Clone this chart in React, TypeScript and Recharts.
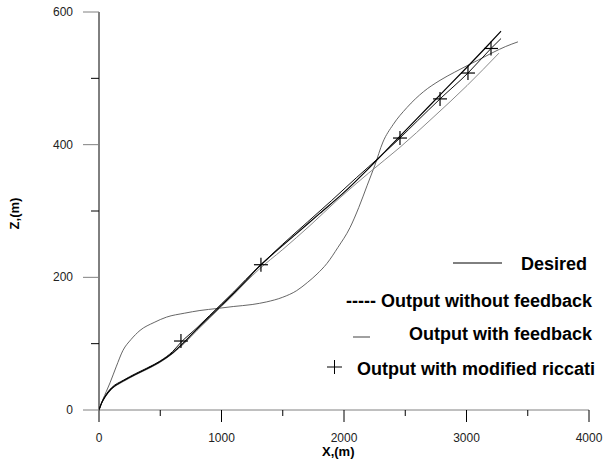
import React from 'react';
import { ComposedChart, Line, Scatter, XAxis, YAxis } from 'recharts';

// desired trajectory
const desiredX = [0, 20, 50, 100, 200, 300, 400, 500, 600, 700, 800, 900, 1000, 1100, 1200, 1300, 1400, 1600, 1800, 2000, 2200, 2400, 2600, 2800, 3000, 3150, 3282];
const desiredZ = [0, 10, 20, 32, 44, 54, 63, 73, 86, 103, 122, 140, 158, 176, 195, 215, 232, 264, 296, 328, 364, 402, 440, 478, 516, 545, 571];

// output with modified riccati (the curve under the + marks)
const riccatiX = [0, 20, 50, 100, 200, 300, 400, 500, 600, 669, 800, 900, 1000, 1100, 1200, 1322, 1500, 1700, 1900, 2100, 2300, 2457, 2600, 2784, 3012, 3200, 3282];
const riccatiZ = [0, 10, 21, 33, 45, 55, 64, 74, 88, 102, 124, 142, 160, 178, 197, 219, 250, 283, 316, 350, 383, 410, 436, 469, 508, 545, 560];

// points where the + marks sit
const markX = [669, 1322, 2457, 2784, 3012, 3200];
const markZ = [104, 219, 410, 469, 508, 545];

// output with feedback (light grey)
const feedbackX = [0, 20, 50, 100, 200, 300, 400, 500, 600, 700, 800, 900, 1000, 1100, 1200, 1300, 1500, 1722, 1943, 2200, 2457, 2727, 3004, 3265];
const feedbackZ = [0, 10, 20, 31, 43, 53, 62, 72, 85, 101, 120, 138, 156, 174, 193, 211, 242, 278, 316, 357, 396, 441, 489, 538];

// output without feedback (s-shaped curve)
const noFeedbackX = [0, 30, 60, 90, 140, 196, 260, 335, 450, 551, 700, 824, 963, 1096, 1250, 1369, 1500, 1614, 1700, 1780, 1861, 1950, 2049, 2120, 2188, 2250, 2318, 2400, 2514, 2650, 2784, 2900, 3004, 3100, 3216, 3320, 3420];
const noFeedbackZ = [0, 15, 28, 41, 65, 90, 106, 120, 132, 140, 146, 150, 153, 156, 159, 163, 170, 180, 192, 205, 221, 245, 275, 305, 338, 368, 404, 430, 456, 480, 497, 509, 519, 528, 539, 548, 555];

const xTicks = [0, 500, 1000, 1500, 2000, 2500, 3000, 3500, 4000];
const zTicks = [0, 100, 200, 300, 400, 500, 600];

const zip = (xs: number[], zs: number[]) => xs.map((x, i) => ({ x, z: zs[i] }));

const desired = zip(desiredX, desiredZ);
const riccati = zip(riccatiX, riccatiZ);
const marks = zip(markX, markZ);
const feedback = zip(feedbackX, feedbackZ);
const noFeedback = zip(noFeedbackX, noFeedbackZ);

const FONT = '"Liberation Sans", Arial, sans-serif';

const XTick = (props: any) => {
  const { x, y, payload } = props;
  const major = payload.value % 1000 === 0;
  return (
    <g>
      <line x1={x} x2={x} y1={y} y2={y + (major ? 12 : 6)} stroke="#000" strokeWidth={1} />
      {major && (
        <text x={x} y={y + 32} textAnchor="middle" fontSize={12} fontFamily={FONT} fill="#222">
          {payload.value}
        </text>
      )}
    </g>
  );
};

const YTick = (props: any) => {
  const { x, y, payload } = props;
  const major = payload.value % 200 === 0;
  return (
    <g>
      <line x1={x} x2={x - (major ? 16 : 8)} y1={y} y2={y} stroke={major ? '#808080' : '#000'} strokeWidth={1} />
      {major && (
        <text x={x - 26} y={y + 4} textAnchor="end" fontSize={12} fontFamily={FONT} fill="#222">
          {payload.value}
        </text>
      )}
    </g>
  );
};

const Plus = (props: any) => {
  const { cx, cy } = props;
  return (
    <g stroke="#000" strokeWidth={1.2}>
      <line x1={cx - 7} x2={cx + 7} y1={cy} y2={cy} />
      <line x1={cx} x2={cx} y1={cy - 7} y2={cy + 7} />
    </g>
  );
};

// hand-placed legend, as in the figure (right-aligned rows)
const LegendBox = () => (
  <svg width={607} height={150} style={{ position: 'absolute', left: 0, top: 240, display: 'block' }}>
    <g fontFamily={FONT} fontWeight="bold" fontSize={18} fill="#000">
      <line x1={453} x2={502} y1={23} y2={23} stroke="#000" strokeWidth={1} />
      <text x={587} y={30} textAnchor="end">Desired</text>
      <text x={592} y={67} textAnchor="end">----- Output without feedback</text>
      <line x1={353} x2={370} y1={97} y2={97} stroke="#808080" strokeWidth={1.5} />
      <text x={592} y={100} textAnchor="end">Output with feedback</text>
      <line x1={327} x2={342} y1={127} y2={127} stroke="#000" strokeWidth={1} />
      <line x1={334.5} x2={334.5} y1={120} y2={134} stroke="#000" strokeWidth={1} />
      <text x={595} y={135} textAnchor="end">Output with modified riccati</text>
    </g>
  </svg>
);

export default function App() {
  return (
    <div style={{ position: 'absolute', left: 0, top: 0, width: 607, height: 465, background: '#fff' }}>
      <ComposedChart width={607} height={465} margin={{ top: 12, right: 18, left: 39, bottom: 25 }}>
        <XAxis
          dataKey="x"
          type="number"
          domain={[0, 4000]}
          ticks={xTicks}
          tick={<XTick />}
          tickLine={false}
          tickSize={0}
          tickMargin={0}
          axisLine={{ stroke: '#808080' }}
          height={30}
          allowDataOverflow
        />
        <YAxis
          dataKey="z"
          type="number"
          domain={[0, 600]}
          ticks={zTicks}
          tick={<YTick />}
          tickLine={false}
          tickSize={0}
          tickMargin={0}
          axisLine={{ stroke: '#000' }}
          width={60}
          allowDataOverflow
        />
        <Line data={noFeedback} dataKey="z" type="monotone" stroke="#555" strokeWidth={0.9} dot={false} isAnimationActive={false} />
        <Line data={feedback} dataKey="z" type="monotone" stroke="#8a8a8a" strokeWidth={1} dot={false} isAnimationActive={false} />
        <Line data={riccati} dataKey="z" type="monotone" stroke="#111" strokeWidth={1} dot={false} isAnimationActive={false} />
        <Line data={desired} dataKey="z" type="monotone" stroke="#000" strokeWidth={1.2} dot={false} isAnimationActive={false} />
        <Scatter data={marks} dataKey="z" shape={<Plus />} isAnimationActive={false} />
      </ComposedChart>
      <LegendBox />
      <div style={{ position: 'absolute', left: 322, top: 444, fontFamily: FONT, fontWeight: 'bold', fontSize: 13 }}>X,(m)</div>
      <div
        style={{
          position: 'absolute',
          left: -8,
          top: 206,
          width: 44,
          textAlign: 'center',
          transform: 'rotate(-90deg)',
          fontFamily: FONT,
          fontWeight: 'bold',
          fontSize: 13,
        }}
      >
        Z,(m)
      </div>
    </div>
  );
}
